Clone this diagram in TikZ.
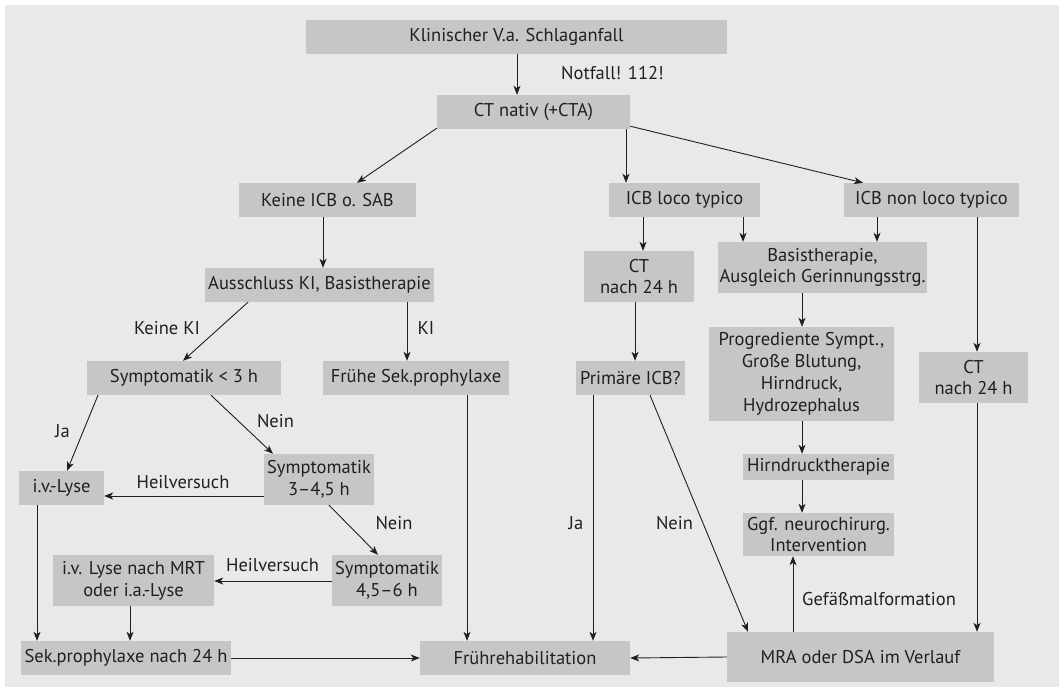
\documentclass[tikz,border=0pt]{standalone}
\usepackage{fontspec}
\setmainfont{PT Sans}
\usetikzlibrary{arrows.meta}
\definecolor{bggray}{HTML}{E9E9E9}
\definecolor{boxgray}{HTML}{C6C6C7}
\definecolor{txt}{HTML}{231F20}
\begin{document}
\begin{tikzpicture}[x=1pt,y=-1pt,
  box/.style={fill=boxgray, inner sep=0pt, align=center, text=txt,
    font=\fontsize{18.5}{21.8}\selectfont},
  lbl/.style={inner sep=0pt, text=txt, font=\fontsize{18.5}{21.8}\selectfont},
  arr/.style={-{Stealth[length=9pt,width=7pt,inset=2.5pt]}, line width=0.9pt, draw=txt},
  ln/.style={line width=0.9pt, draw=txt}]
\useasboundingbox (0,0) rectangle (1064,692);
\fill[white] (0,0) rectangle (1064,692);
\fill[bggray] (5,5) rectangle (1059,687);
% nodes
\node[box, minimum width=421pt, minimum height=34pt] (klin) at (516.5,37) {Klinischer V.a. Schlaganfall};
\node[box, minimum width=193pt, minimum height=34pt] (ct) at (533.5,112) {CT nativ (+CTA)};
\node[box, minimum width=177pt, minimum height=34pt] (keine) at (327.5,200) {Keine ICB o. SAB};
\node[box, minimum width=151pt, minimum height=34pt] (loco) at (684.5,200) {ICB loco typico};
\node[box, minimum width=175pt, minimum height=34pt] (nonloco) at (931.5,200) {ICB non loco typico};
\node[box, minimum width=229pt, minimum height=34pt] (aus) at (319.5,285) {Ausschluss KI, Basistherapie};
\node[box, minimum width=110pt, minimum height=51pt] (cta) at (639,276.5) {CT\\nach 24 h};
\node[box, minimum width=209pt, minimum height=51pt] (basis) at (822.5,267.5) {Basistherapie,\\Ausgleich Gerinnungsstrg.};
\node[box, minimum width=194pt, minimum height=34pt] (symA) at (184,378) {Symptomatik < 3 h};
\node[box, minimum width=186pt, minimum height=34pt] (fruehe) at (416,378) {Frühe Sek.prophylaxe};
\node[box, minimum width=109pt, minimum height=34pt] (prim) at (630.5,378) {Primäre ICB?};
\node[box, minimum width=185pt, minimum height=94pt] (prog) at (801.5,374) {Progrediente Sympt.,\\Große Blutung,\\Hirndruck,\\Hydrozephalus};
\node[box, minimum width=109pt, minimum height=51pt] (ctb) at (973.5,377.5) {CT\\nach 24 h};
\node[box, minimum width=85pt, minimum height=34pt] (lyse) at (61.5,488) {i.v.-Lyse};
\node[box, minimum width=110pt, minimum height=51pt] (symB) at (319,479.5) {Symptomatik\\3–4,5 h};
\node[box, minimum width=151pt, minimum height=26pt] (hirn) at (818.5,467) {Hirndrucktherapie};
\node[box, minimum width=151pt, minimum height=43pt] (ggf) at (818.5,534.5) {Ggf. neurochirurg.\\Intervention};
\node[box, minimum width=110pt, minimum height=51pt] (symC) at (387,580.5) {Symptomatik\\4,5–6 h};
\node[box, minimum width=161pt, minimum height=51pt] (mrt) at (133.5,580.5) {i.v. Lyse nach MRT\\oder i.a.-Lyse};
\node[box, minimum width=210pt, minimum height=34pt] (sek) at (126,658) {Sek.prophylaxe nach 24 h};
\node[box, minimum width=210pt, minimum height=34pt] (frueh) at (525,658) {Frührehabilitation};
\node[box, minimum width=267pt, minimum height=50pt] (mra) at (860.5,657) {MRA oder DSA im Verlauf};
% labels
\node[lbl, anchor=west] (lnot) at (561,73) {Notfall! 112!};
\node[lbl] (lkki) at (167,328) {Keine KI};
\node[lbl] (lki) at (426,328) {KI};
\node[lbl] (lja1) at (62.5,431) {Ja};
\node[lbl] (lnein1) at (275.5,421) {Nein};
\node[lbl] (lheil1) at (183,482) {Heilversuch};
\node[lbl] (lnein2) at (394,523) {Nein};
\node[lbl] (lheil2) at (272.5,565) {Heilversuch};
\node[lbl] (lja2) at (576,523) {Ja};
\node[lbl] (lnein3) at (674.5,523) {Nein};
\node[lbl, anchor=west] (lgef) at (802,599) {Gefäßmalformation};
% connectors
\draw[arr] ([xshift=0.5pt]klin.south) -- ([xshift=0.5pt]klin.south |- ct.north);
\draw[arr] ([yshift=1pt]ct.south west) -- ([xshift=29.5pt]keine.north);
\draw[arr] ([xshift=92.5pt]ct.south) -- ([xshift=92.5pt]ct.south |- loco.north);
\draw[arr] ([yshift=3pt]ct.south east) -- ([xshift=-68.5pt]nonloco.north);
\draw[arr] ([xshift=-4.5pt]keine.south) -- ([xshift=-4.5pt]keine.south |- aus.north);
\draw[arr] ([xshift=-41.5pt]loco.south) -- ([xshift=-41.5pt]loco.south |- cta.north);
\draw[arr] ([xshift=58.5pt]loco.south) -- ([xshift=58.5pt]loco.south |- basis.north);
\draw[arr] ([xshift=-54.5pt]nonloco.south) -- ([xshift=-54.5pt]nonloco.south |- basis.north);
\draw[arr] ([xshift=45.5pt]nonloco.south) -- ([xshift=45.5pt]nonloco.south |- ctb.north);
\draw[arr] ([xshift=-71.5pt]aus.south) -- ([xshift=-1pt]symA.north);
\draw[arr] ([xshift=87.5pt]aus.south) -- ([xshift=87.5pt]aus.south |- fruehe.north);
\draw[arr] ([xshift=-4pt]cta.south) -- ([xshift=-4pt]cta.south |- prim.north);
\draw[arr] ([xshift=-20.5pt]basis.south) -- ([xshift=-20.5pt]basis.south |- prog.north);
\draw[arr] ([xshift=-86pt]symA.south) -- ([xshift=5.5pt]lyse.north);
\draw[arr] ([xshift=27pt]symA.south) -- ([xshift=-46pt]symB.north);
\draw[arr] ([xshift=51pt]fruehe.south) -- ([xshift=51pt]fruehe.south |- frueh.north);
\draw[arr] ([xshift=-37.5pt]prim.south) -- ([xshift=-37.5pt]prim.south |- frueh.north);
\draw[arr] ([xshift=19.5pt]prim.south) -- ([xshift=-112.5pt]mra.north);
\draw[arr] ([xshift=0.5pt]prog.south) -- ([xshift=0.5pt]prog.south |- hirn.north);
\draw[arr] ([xshift=-16.5pt]hirn.south) -- ([xshift=-16.5pt]hirn.south |- ggf.north);
\draw[arr] ([xshift=3.5pt]ctb.south) -- ([xshift=3.5pt]ctb.south |- mra.north);
\draw[arr] ([xshift=-67.5pt]mra.north) -- ([xshift=-67.5pt]mra.north |- ggf.south);
\draw[arr] ([yshift=-16.5pt]symB.west) -- ([yshift=-16.5pt]symB.west -| lyse.east);
\draw[arr] ([xshift=10pt]symB.south) -- ([xshift=-9pt]symC.north);
\draw[arr] ([yshift=-0.5pt]symC.west) -- ([yshift=-0.5pt]symC.west -| mrt.east);
\draw[arr] ([xshift=-24.5pt]lyse.south) -- ([xshift=-24.5pt]lyse.south |- sek.north);
\draw[arr] ([xshift=-3.5pt]mrt.south) -- ([xshift=-3.5pt]mrt.south |- sek.north);
\draw[arr] (sek.east) -- (frueh.west);
\draw[arr] (mra.west) -- (frueh.east);
\end{tikzpicture}
\end{document}
